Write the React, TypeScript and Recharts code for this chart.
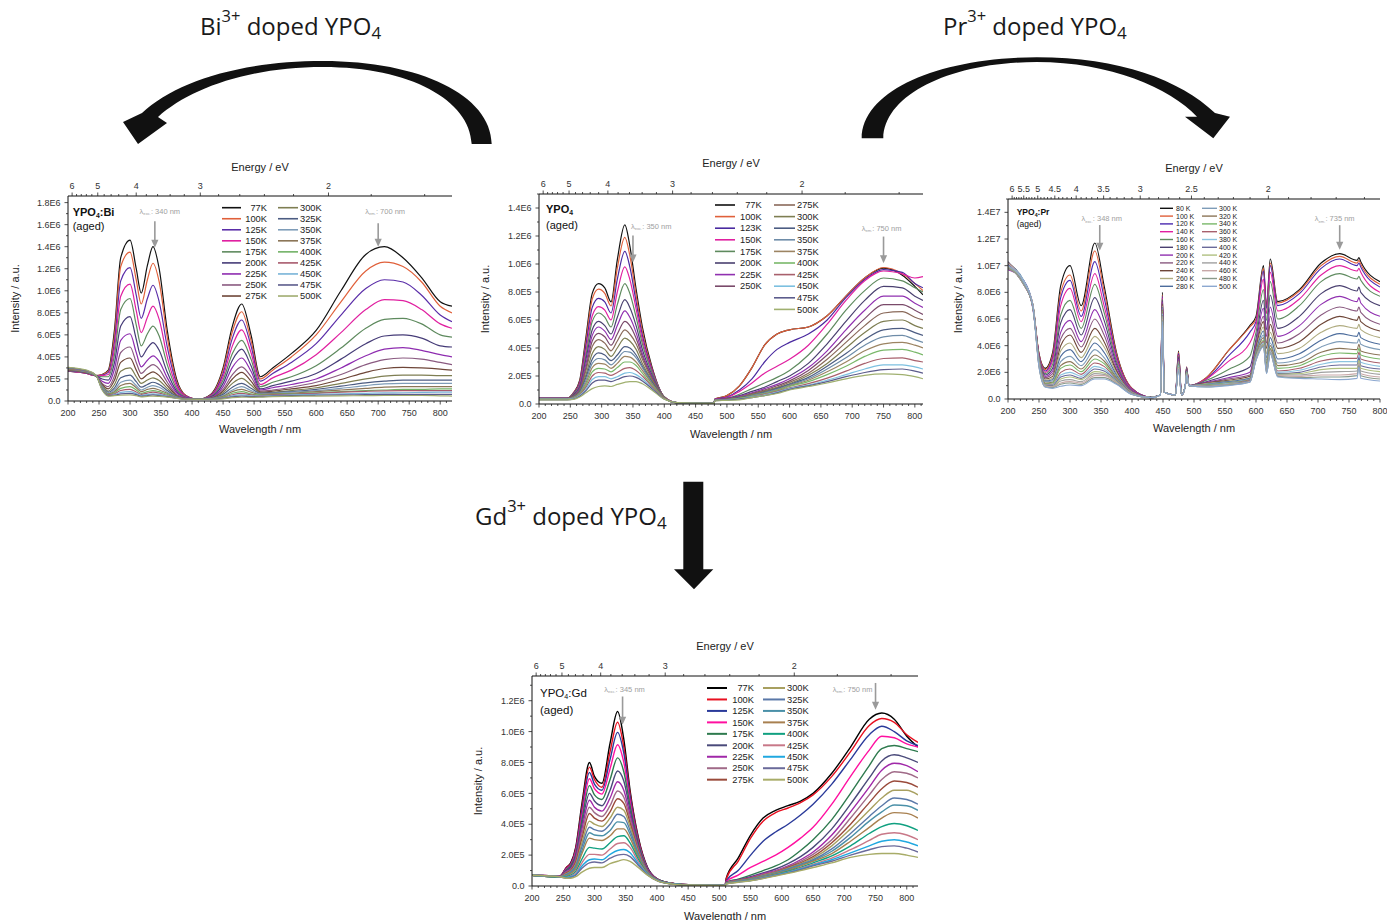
import React from 'react';
import { LineChart, Line, XAxis, YAxis, Legend, ReferenceDot } from 'recharts';

// ---------------- Bi panel (units of 1E5) ----------------
const BI_WL = [200, 230, 245, 255, 265, 275, 285, 300, 310, 318, 328, 337, 347, 360, 375, 390, 410, 430, 450, 465, 480, 495, 510, 530, 560, 600, 640, 680, 710, 740, 770, 800, 819];
const BI_NAMES = ['77K', '100K', '125K', '150K', '175K', '200K', '225K', '250K', '275K', '300K', '325K', '350K', '375K', '400K', '425K', '450K', '475K', '500K'];
const bi77 = [2.7, 2.5, 2.3, 2.4, 2.8, 6.5, 13.0, 14.6, 12.0, 9.8, 12.3, 14.0, 12.0, 6.4, 2.0, 0.5, 0.15, 0.6, 3.0, 6.8, 8.8, 6.0, 2.2, 3.0, 4.3, 6.4, 10.0, 13.3, 14.0, 13.0, 11.2, 9.0, 8.6];
const bi100 = [2.7, 2.5, 2.3, 2.4, 2.7, 6.0, 12.2, 13.5, 11.0, 8.8, 11.0, 12.5, 10.8, 5.8, 1.8, 0.5, 0.15, 0.55, 2.8, 6.3, 8.1, 5.5, 2.0, 2.8, 4.0, 6.0, 9.0, 11.8, 12.6, 12.2, 10.8, 8.6, 8.0];
const bi125 = [2.7, 2.5, 2.3, 2.35, 2.6, 5.4, 10.9, 12.1, 9.6, 7.5, 9.3, 10.5, 9.0, 4.9, 1.6, 0.45, 0.15, 0.5, 2.5, 5.7, 7.35, 5.0, 1.8, 2.5, 3.5, 5.2, 7.8, 10.2, 11.0, 10.8, 9.6, 7.8, 7.2];
const bi150 = [2.75, 2.5, 2.3, 2.3, 2.4, 4.8, 9.5, 10.6, 8.2, 6.2, 7.6, 8.6, 7.4, 4.0, 1.35, 0.4, 0.15, 0.45, 2.2, 5.0, 6.45, 4.4, 1.5, 2.1, 2.8, 4.2, 6.2, 8.3, 9.2, 9.1, 8.3, 7.0, 6.6];
const bi175 = [2.75, 2.55, 2.3, 2.2, 2.2, 4.2, 8.3, 9.3, 6.9, 5.0, 6.1, 6.8, 5.9, 3.3, 1.1, 0.35, 0.15, 0.4, 1.9, 4.3, 5.5, 3.8, 1.3, 1.7, 2.2, 3.2, 4.8, 6.6, 7.4, 7.5, 7.0, 6.0, 5.8];
const bi200 = [2.8, 2.55, 2.3, 2.0, 1.9, 3.5, 6.8, 7.65, 5.6, 4.0, 4.8, 5.3, 4.6, 2.6, 0.9, 0.3, 0.15, 0.35, 1.6, 3.7, 4.7, 3.2, 1.1, 1.4, 1.8, 2.5, 3.8, 5.2, 5.9, 6.0, 5.7, 5.0, 4.9];
const bi225 = [2.8, 2.6, 2.3, 1.8, 1.6, 2.9, 5.5, 6.1, 4.4, 3.1, 3.7, 4.1, 3.6, 2.1, 0.75, 0.28, 0.15, 0.3, 1.3, 3.05, 3.9, 2.7, 1.0, 1.2, 1.5, 2.0, 3.0, 4.1, 4.7, 4.85, 4.6, 4.2, 4.0];
const bi250 = [2.8, 2.6, 2.3, 1.6, 1.3, 2.3, 4.4, 4.9, 3.5, 2.5, 3.0, 3.3, 2.9, 1.7, 0.6, 0.25, 0.15, 0.28, 1.05, 2.4, 3.1, 2.2, 0.9, 1.0, 1.25, 1.7, 2.4, 3.3, 3.75, 3.9, 3.8, 3.5, 3.3];
const bi275 = [2.85, 2.6, 2.3, 1.5, 1.1, 1.9, 3.5, 3.9, 2.8, 2.0, 2.4, 2.65, 2.3, 1.4, 0.5, 0.22, 0.15, 0.25, 0.9, 2.0, 2.6, 1.8, 0.8, 0.9, 1.1, 1.4, 1.95, 2.6, 2.95, 3.05, 3.0, 2.9, 2.8];
const bi300 = [2.85, 2.6, 2.3, 1.4, 0.9, 1.5, 2.7, 3.0, 2.2, 1.6, 1.9, 2.1, 1.85, 1.15, 0.45, 0.2, 0.15, 0.22, 0.75, 1.6, 2.05, 1.45, 0.75, 0.8, 0.95, 1.2, 1.6, 2.0, 2.25, 2.35, 2.35, 2.3, 2.3];
const bi325 = [2.9, 2.65, 2.3, 1.3, 0.8, 1.2, 2.1, 2.35, 1.75, 1.25, 1.5, 1.7, 1.5, 0.95, 0.4, 0.2, 0.15, 0.2, 0.6, 1.25, 1.6, 1.15, 0.7, 0.75, 0.85, 1.05, 1.35, 1.65, 1.8, 1.9, 1.9, 1.9, 1.9];
const bi350 = [2.9, 2.65, 2.3, 1.3, 0.7, 1.0, 1.7, 1.9, 1.4, 1.0, 1.25, 1.4, 1.25, 0.8, 0.35, 0.18, 0.15, 0.2, 0.5, 1.0, 1.3, 0.95, 0.65, 0.7, 0.8, 0.95, 1.15, 1.4, 1.55, 1.6, 1.6, 1.6, 1.6];
const bi375 = [2.9, 2.7, 2.3, 1.2, 0.65, 0.85, 1.4, 1.6, 1.2, 0.85, 1.05, 1.15, 1.0, 0.7, 0.32, 0.18, 0.15, 0.18, 0.42, 0.85, 1.05, 0.8, 0.6, 0.65, 0.7, 0.85, 1.0, 1.15, 1.25, 1.3, 1.3, 1.3, 1.3];
const bi400 = [2.95, 2.7, 2.3, 1.2, 0.6, 0.75, 1.15, 1.3, 1.0, 0.7, 0.85, 0.95, 0.85, 0.6, 0.3, 0.17, 0.15, 0.18, 0.36, 0.7, 0.85, 0.65, 0.55, 0.6, 0.65, 0.75, 0.85, 0.95, 1.0, 1.05, 1.06, 1.1, 1.1];
const bi425 = [2.95, 2.7, 2.35, 1.15, 0.55, 0.65, 0.95, 1.05, 0.82, 0.6, 0.72, 0.8, 0.72, 0.5, 0.28, 0.17, 0.15, 0.17, 0.3, 0.57, 0.7, 0.55, 0.5, 0.55, 0.6, 0.7, 0.8, 0.88, 0.92, 0.94, 0.94, 0.95, 0.95];
const bi450 = [3.0, 2.75, 2.35, 1.1, 0.5, 0.58, 0.78, 0.85, 0.68, 0.5, 0.6, 0.65, 0.6, 0.45, 0.26, 0.16, 0.15, 0.17, 0.26, 0.46, 0.55, 0.47, 0.45, 0.5, 0.55, 0.6, 0.65, 0.7, 0.73, 0.75, 0.78, 0.8, 0.8];
const bi475 = [3.0, 2.75, 2.35, 1.05, 0.48, 0.52, 0.64, 0.7, 0.58, 0.42, 0.5, 0.55, 0.5, 0.4, 0.25, 0.16, 0.15, 0.16, 0.23, 0.38, 0.45, 0.4, 0.4, 0.45, 0.5, 0.52, 0.55, 0.58, 0.6, 0.6, 0.6, 0.6, 0.6];
const bi500 = [3.05, 2.8, 2.35, 1.0, 0.45, 0.48, 0.52, 0.55, 0.48, 0.38, 0.42, 0.45, 0.42, 0.35, 0.24, 0.16, 0.15, 0.16, 0.2, 0.3, 0.35, 0.33, 0.35, 0.4, 0.42, 0.45, 0.47, 0.48, 0.5, 0.5, 0.5, 0.47, 0.45];
const BI_SERIES = [bi77, bi100, bi125, bi150, bi175, bi200, bi225, bi250, bi275, bi300, bi325, bi350, bi375, bi400, bi425, bi450, bi475, bi500];

// ---------------- undoped YPO4 panel (units of 1E5) ----------------
const Y_WL = [200, 245, 255, 265, 275, 285, 295, 305, 315, 325, 337, 345, 355, 365, 380, 400, 420, 479, 481, 500, 520, 540, 560, 580, 600, 630, 660, 690, 720, 750, 780, 800, 813];
const Y_NAMES = ['77K', '100K', '123K', '150K', '175K', '200K', '225K', '250K', '275K', '300K', '325K', '350K', '375K', '400K', '425K', '450K', '475K', '500K'];
const y77 = [0.4, 0.4, 0.8, 1.7, 4.8, 7.9, 8.6, 8.3, 7.3, 10.3, 12.8, 11.3, 8.2, 5.5, 2.7, 0.5, 0.1, 0.05, 0.35, 0.6, 1.3, 2.6, 4.2, 5.0, 5.3, 5.5, 6.3, 7.7, 9.0, 9.7, 9.2, 8.4, 7.8];
const y100 = [0.4, 0.4, 0.8, 1.6, 4.5, 7.5, 8.2, 7.9, 7.0, 9.7, 11.9, 10.6, 7.8, 5.2, 2.6, 0.5, 0.1, 0.05, 0.35, 0.6, 1.3, 2.6, 4.2, 5.0, 5.3, 5.5, 6.3, 7.7, 9.0, 9.75, 9.3, 8.6, 8.1];
const y123 = [0.4, 0.4, 0.75, 1.5, 4.2, 6.9, 7.55, 7.3, 6.5, 8.9, 10.9, 9.8, 7.3, 4.9, 2.5, 0.5, 0.1, 0.05, 0.35, 0.5, 1.0, 1.8, 3.0, 3.9, 4.4, 5.0, 6.0, 7.6, 8.9, 9.6, 9.4, 8.6, 8.3];
const y150 = [0.4, 0.4, 0.7, 1.4, 3.8, 6.3, 6.95, 6.7, 6.0, 8.0, 9.8, 8.9, 6.8, 4.6, 2.4, 0.5, 0.1, 0.05, 0.33, 0.45, 0.9, 1.5, 2.2, 2.7, 3.2, 4.2, 5.7, 7.4, 8.8, 9.5, 9.3, 9.0, 9.1];
const y175 = [0.4, 0.4, 0.7, 1.3, 3.5, 5.9, 6.5, 6.2, 5.5, 7.1, 8.6, 7.9, 6.2, 4.3, 2.3, 0.5, 0.1, 0.05, 0.3, 0.4, 0.7, 1.1, 1.5, 1.9, 2.4, 3.5, 5.0, 6.7, 8.1, 9.0, 8.8, 8.3, 8.0];
const y200 = [0.4, 0.4, 0.65, 1.2, 3.2, 5.3, 5.9, 5.6, 5.0, 6.2, 7.45, 6.9, 5.6, 3.9, 2.1, 0.45, 0.1, 0.05, 0.3, 0.4, 0.6, 0.9, 1.2, 1.6, 2.0, 2.9, 4.3, 5.9, 7.4, 8.4, 8.3, 7.7, 7.4];
const y225 = [0.4, 0.4, 0.6, 1.1, 2.9, 4.9, 5.5, 5.2, 4.6, 5.6, 6.65, 6.2, 5.1, 3.6, 2.0, 0.45, 0.1, 0.05, 0.3, 0.38, 0.55, 0.8, 1.1, 1.4, 1.8, 2.6, 3.8, 5.3, 6.7, 7.7, 7.7, 7.2, 6.9];
const y250 = [0.4, 0.4, 0.6, 1.0, 2.6, 4.5, 5.05, 4.8, 4.2, 5.0, 5.9, 5.6, 4.7, 3.4, 1.9, 0.45, 0.1, 0.05, 0.3, 0.36, 0.5, 0.75, 1.0, 1.3, 1.65, 2.4, 3.5, 4.8, 6.1, 7.1, 7.1, 6.7, 6.4];
const y275 = [0.38, 0.38, 0.55, 0.95, 2.4, 4.1, 4.6, 4.35, 3.8, 4.5, 5.3, 5.0, 4.3, 3.2, 1.8, 0.45, 0.1, 0.05, 0.28, 0.35, 0.5, 0.7, 0.95, 1.2, 1.55, 2.2, 3.2, 4.4, 5.6, 6.5, 6.6, 6.2, 6.0];
const y300 = [0.38, 0.38, 0.5, 0.9, 2.1, 3.6, 4.1, 3.9, 3.4, 4.0, 4.7, 4.5, 3.9, 2.9, 1.7, 0.45, 0.1, 0.05, 0.28, 0.34, 0.45, 0.65, 0.9, 1.15, 1.45, 2.05, 2.9, 4.0, 5.1, 5.9, 6.0, 5.6, 5.4];
const y325 = [0.36, 0.36, 0.5, 0.85, 1.9, 3.2, 3.65, 3.5, 3.1, 3.5, 4.1, 4.0, 3.5, 2.7, 1.6, 0.4, 0.1, 0.05, 0.27, 0.33, 0.45, 0.6, 0.85, 1.1, 1.4, 1.9, 2.7, 3.6, 4.6, 5.3, 5.4, 5.1, 4.9];
const y350 = [0.36, 0.36, 0.48, 0.8, 1.7, 2.9, 3.25, 3.15, 2.8, 3.2, 3.75, 3.7, 3.3, 2.6, 1.5, 0.4, 0.1, 0.05, 0.27, 0.32, 0.4, 0.6, 0.8, 1.05, 1.35, 1.8, 2.5, 3.3, 4.2, 4.8, 4.9, 4.6, 4.4];
const y375 = [0.35, 0.35, 0.45, 0.75, 1.5, 2.6, 2.9, 2.85, 2.55, 2.9, 3.4, 3.35, 3.0, 2.4, 1.45, 0.4, 0.1, 0.05, 0.26, 0.31, 0.4, 0.55, 0.75, 1.0, 1.3, 1.7, 2.3, 3.0, 3.8, 4.3, 4.4, 4.2, 4.0];
const y400 = [0.35, 0.35, 0.43, 0.7, 1.35, 2.3, 2.55, 2.5, 2.3, 2.6, 3.0, 3.0, 2.75, 2.2, 1.35, 0.4, 0.1, 0.05, 0.26, 0.3, 0.4, 0.55, 0.75, 0.95, 1.25, 1.6, 2.1, 2.7, 3.4, 3.85, 3.9, 3.7, 3.5];
const y425 = [0.33, 0.33, 0.4, 0.65, 1.2, 2.0, 2.25, 2.2, 2.05, 2.25, 2.55, 2.6, 2.4, 2.0, 1.25, 0.4, 0.1, 0.05, 0.25, 0.3, 0.35, 0.5, 0.7, 0.9, 1.15, 1.45, 1.85, 2.35, 2.9, 3.25, 3.3, 3.1, 3.0];
const y450 = [0.33, 0.33, 0.38, 0.6, 1.05, 1.75, 1.95, 1.95, 1.8, 1.95, 2.2, 2.25, 2.1, 1.8, 1.15, 0.35, 0.1, 0.05, 0.25, 0.28, 0.35, 0.5, 0.65, 0.85, 1.1, 1.35, 1.7, 2.1, 2.5, 2.8, 2.8, 2.65, 2.5];
const y475 = [0.3, 0.3, 0.35, 0.55, 0.95, 1.5, 1.7, 1.7, 1.6, 1.75, 1.95, 2.0, 1.9, 1.65, 1.1, 0.35, 0.1, 0.05, 0.24, 0.27, 0.35, 0.45, 0.6, 0.8, 1.05, 1.3, 1.6, 1.95, 2.25, 2.45, 2.5, 2.35, 2.2];
const y500 = [0.3, 0.3, 0.33, 0.5, 0.8, 1.1, 1.25, 1.3, 1.25, 1.4, 1.55, 1.6, 1.6, 1.45, 1.0, 0.35, 0.1, 0.05, 0.23, 0.26, 0.3, 0.45, 0.6, 0.75, 1.0, 1.25, 1.5, 1.8, 2.05, 2.15, 2.1, 1.95, 1.8];
const Y_SERIES = [y77, y100, y123, y150, y175, y200, y225, y250, y275, y300, y325, y350, y375, y400, y425, y450, y475, y500];

// ---------------- Pr panel (units of 1E6) ----------------
const PR_WL = [200, 225, 240, 250, 260, 272, 285, 300, 318, 340, 355, 375, 400, 430, 446, 449, 452, 470, 475, 480, 486, 488, 492, 520, 555, 590, 600, 612, 617, 623, 635, 670, 705, 735, 763, 766, 769, 800];
const PR_NAMES = ['80 K', '100 K', '120 K', '140 K', '160 K', '180 K', '200 K', '220 K', '240 K', '260 K', '280 K', '300 K', '320 K', '340 K', '360 K', '380 K', '400 K', '420 K', '440 K', '460 K', '480 K', '500 K'];
const pr80 = [10.2, 8.8, 7.0, 3.4, 2.3, 3.5, 8.5, 10.0, 7.0, 11.7, 8.5, 3.5, 0.8, 0.15, 0.3, 8.0, 0.5, 0.3, 3.6, 0.3, 1.0, 2.4, 1.0, 1.6, 3.6, 5.5, 6.2, 10.0, 7.0, 10.5, 7.3, 8.2, 10.2, 10.9, 10.4, 10.6, 10.3, 8.8];
const pr100 = [10.0, 8.7, 7.1, 3.4, 2.2, 3.3, 8.0, 9.3, 6.6, 11.1, 8.1, 3.4, 0.8, 0.15, 0.3, 7.8, 0.5, 0.3, 3.5, 0.3, 1.0, 2.4, 1.0, 1.6, 3.6, 5.4, 6.0, 9.8, 6.9, 10.2, 7.2, 8.1, 10.0, 10.7, 10.2, 10.4, 10.1, 8.6];
const pr120 = [9.8, 8.9, 6.9, 3.3, 2.1, 3.1, 7.6, 8.9, 6.2, 10.3, 7.6, 3.2, 0.75, 0.15, 0.3, 7.7, 0.5, 0.3, 3.4, 0.3, 1.0, 2.35, 1.0, 1.5, 3.2, 5.0, 5.8, 9.6, 6.8, 10.0, 7.0, 7.9, 9.8, 10.5, 10.0, 10.2, 9.9, 8.4];
const pr140 = [10.1, 8.6, 7.0, 3.3, 2.0, 2.9, 7.0, 8.3, 5.8, 9.4, 7.0, 3.0, 0.7, 0.15, 0.3, 7.6, 0.5, 0.3, 3.3, 0.3, 1.0, 2.3, 1.0, 1.5, 2.8, 4.2, 5.5, 9.0, 6.4, 9.5, 6.6, 7.5, 9.3, 10.0, 9.6, 9.8, 9.5, 8.0];
const pr160 = [9.9, 8.8, 6.9, 3.2, 1.9, 2.6, 6.3, 7.4, 5.3, 8.6, 6.5, 2.8, 0.65, 0.14, 0.3, 7.5, 0.5, 0.3, 3.2, 0.3, 1.0, 2.3, 1.0, 1.4, 2.2, 3.2, 5.0, 8.2, 5.9, 8.8, 6.0, 7.0, 8.8, 9.4, 9.0, 9.2, 8.9, 7.7];
const pr180 = [10.3, 8.7, 7.1, 3.2, 1.8, 2.3, 5.7, 6.7, 4.8, 7.6, 5.9, 2.6, 0.6, 0.14, 0.3, 7.4, 0.5, 0.3, 3.1, 0.3, 1.0, 2.25, 1.0, 1.3, 1.8, 2.4, 4.5, 7.4, 5.2, 7.8, 5.3, 6.2, 7.9, 8.5, 8.1, 8.4, 8.0, 7.0];
const pr200 = [9.7, 8.9, 6.8, 3.1, 1.7, 2.1, 5.0, 5.9, 4.3, 6.7, 5.3, 2.4, 0.6, 0.13, 0.3, 7.3, 0.5, 0.3, 3.0, 0.3, 1.0, 2.2, 1.0, 1.25, 1.6, 2.0, 4.2, 6.8, 4.7, 6.9, 4.7, 5.5, 7.1, 7.7, 7.3, 7.6, 7.2, 6.2];
const pr220 = [10.0, 8.6, 7.0, 3.1, 1.6, 1.9, 4.5, 5.3, 3.9, 6.0, 4.8, 2.2, 0.55, 0.13, 0.3, 7.2, 0.5, 0.3, 2.9, 0.3, 1.0, 2.2, 1.0, 1.2, 1.5, 1.8, 4.0, 6.2, 4.2, 6.2, 4.2, 4.9, 6.3, 6.9, 6.6, 6.9, 6.5, 5.6];
const pr240 = [10.2, 8.8, 6.9, 3.0, 1.5, 1.7, 4.0, 4.8, 3.5, 5.3, 4.3, 2.1, 0.5, 0.12, 0.3, 7.1, 0.5, 0.3, 2.8, 0.3, 1.0, 2.15, 1.0, 1.2, 1.4, 1.7, 3.8, 5.8, 3.8, 5.6, 3.8, 4.3, 5.6, 6.2, 5.9, 6.2, 5.8, 5.1];
const pr260 = [9.8, 8.7, 7.0, 3.0, 1.4, 1.55, 3.6, 4.2, 3.1, 4.7, 3.9, 1.95, 0.5, 0.12, 0.3, 7.0, 0.5, 0.3, 2.8, 0.3, 1.0, 2.1, 1.0, 1.15, 1.35, 1.6, 3.6, 5.4, 3.4, 5.0, 3.4, 3.8, 5.0, 5.5, 5.3, 5.6, 5.2, 4.6];
const pr280 = [10.1, 8.9, 7.1, 2.9, 1.35, 1.45, 3.2, 3.7, 2.8, 4.2, 3.5, 1.8, 0.45, 0.12, 0.3, 6.9, 0.5, 0.3, 2.7, 0.3, 1.0, 2.1, 1.0, 1.1, 1.3, 1.55, 3.5, 5.1, 3.1, 4.6, 3.0, 3.4, 4.4, 4.9, 4.7, 5.0, 4.6, 4.1];
const pr300 = [9.9, 8.7, 6.9, 2.9, 1.3, 1.35, 2.8, 3.2, 2.5, 3.7, 3.1, 1.7, 0.45, 0.11, 0.3, 6.8, 0.5, 0.3, 2.7, 0.3, 1.0, 2.05, 1.0, 1.1, 1.25, 1.5, 3.4, 4.8, 2.9, 4.2, 2.7, 3.0, 3.9, 4.3, 4.2, 4.5, 4.1, 3.7];
const pr320 = [10.0, 8.8, 7.0, 2.8, 1.2, 1.25, 2.5, 2.8, 2.25, 3.3, 2.85, 1.6, 0.42, 0.11, 0.3, 6.7, 0.5, 0.3, 2.6, 0.3, 1.0, 2.0, 1.0, 1.05, 1.2, 1.45, 3.3, 4.6, 2.7, 4.0, 2.5, 2.7, 3.5, 3.8, 3.7, 4.1, 3.6, 3.3];
const pr340 = [10.2, 8.6, 7.1, 2.8, 1.15, 1.2, 2.3, 2.55, 2.05, 3.0, 2.65, 1.5, 0.4, 0.11, 0.3, 6.6, 0.5, 0.3, 2.6, 0.3, 1.0, 2.0, 1.0, 1.05, 1.2, 1.4, 3.2, 4.4, 2.6, 3.8, 2.3, 2.5, 3.2, 3.45, 3.4, 3.8, 3.3, 3.0];
const pr360 = [9.8, 8.7, 6.9, 2.7, 1.1, 1.1, 2.0, 2.25, 1.85, 2.7, 2.45, 1.45, 0.4, 0.1, 0.3, 6.5, 0.5, 0.3, 2.5, 0.3, 1.0, 1.95, 1.0, 1.0, 1.15, 1.4, 3.1, 4.3, 2.4, 3.7, 2.1, 2.3, 2.85, 3.05, 3.05, 3.5, 3.0, 2.7];
const pr380 = [10.0, 8.9, 7.0, 2.7, 1.05, 1.05, 1.8, 2.0, 1.7, 2.45, 2.25, 1.4, 0.38, 0.1, 0.3, 6.4, 0.5, 0.3, 2.5, 0.3, 1.0, 1.95, 1.0, 1.0, 1.15, 1.35, 3.1, 4.2, 2.3, 3.6, 2.0, 2.15, 2.6, 2.8, 2.8, 3.3, 2.75, 2.45];
const pr400 = [10.1, 8.7, 7.0, 2.6, 1.0, 1.0, 1.65, 1.8, 1.55, 2.25, 2.1, 1.35, 0.37, 0.1, 0.3, 6.3, 0.5, 0.3, 2.4, 0.3, 1.0, 1.9, 1.0, 1.0, 1.1, 1.35, 3.0, 4.1, 2.2, 3.5, 1.9, 2.0, 2.4, 2.55, 2.55, 3.1, 2.5, 2.25];
const pr420 = [9.9, 8.8, 6.9, 2.6, 1.0, 0.95, 1.5, 1.65, 1.45, 2.05, 1.95, 1.3, 0.36, 0.1, 0.3, 6.2, 0.5, 0.3, 2.4, 0.3, 1.0, 1.9, 1.0, 0.95, 1.1, 1.3, 3.0, 4.1, 2.1, 3.5, 1.85, 1.9, 2.2, 2.3, 2.3, 2.9, 2.3, 2.05];
const pr440 = [10.0, 8.6, 7.0, 2.5, 0.95, 0.9, 1.35, 1.45, 1.3, 1.9, 1.85, 1.25, 0.35, 0.1, 0.3, 6.1, 0.5, 0.3, 2.3, 0.3, 1.0, 1.85, 1.0, 0.95, 1.1, 1.3, 3.0, 4.0, 2.05, 3.5, 1.8, 1.8, 2.0, 2.05, 2.1, 2.7, 2.1, 1.85];
const pr460 = [10.2, 8.8, 7.1, 2.5, 0.95, 0.9, 1.2, 1.3, 1.2, 1.75, 1.75, 1.2, 0.35, 0.1, 0.3, 6.0, 0.5, 0.3, 2.3, 0.3, 1.0, 1.85, 1.0, 0.95, 1.05, 1.3, 3.0, 4.0, 2.0, 3.4, 1.75, 1.7, 1.8, 1.8, 1.9, 2.6, 1.9, 1.65];
const pr480 = [9.8, 8.7, 6.9, 2.4, 0.9, 0.85, 1.1, 1.2, 1.1, 1.6, 1.6, 1.15, 0.34, 0.1, 0.3, 5.9, 0.5, 0.3, 2.2, 0.3, 1.0, 1.8, 1.0, 0.9, 1.05, 1.25, 2.9, 4.0, 1.95, 3.4, 1.7, 1.6, 1.65, 1.65, 1.75, 2.5, 1.75, 1.5];
const pr500 = [10.0, 8.8, 7.0, 2.4, 0.9, 0.8, 0.95, 1.05, 1.0, 1.5, 1.5, 1.1, 0.33, 0.1, 0.3, 5.8, 0.5, 0.3, 2.2, 0.3, 1.0, 1.8, 1.0, 0.9, 1.0, 1.25, 2.9, 3.9, 1.9, 3.4, 1.65, 1.55, 1.5, 1.45, 1.55, 2.4, 1.55, 1.35];
const PR_SERIES = [pr80, pr100, pr120, pr140, pr160, pr180, pr200, pr220, pr240, pr260, pr280, pr300, pr320, pr340, pr360, pr380, pr400, pr420, pr440, pr460, pr480, pr500];

// ---------------- Gd panel (units of 1E5) ----------------
const GD_WL = [200, 245, 255, 262, 270, 280, 292, 300, 312, 325, 337, 347, 357, 370, 385, 400, 420, 450, 509, 511, 530, 550, 570, 590, 610, 630, 650, 680, 710, 740, 760, 780, 800, 818];
const GD_NAMES = ['77K', '100K', '125K', '150K', '175K', '200K', '225K', '250K', '275K', '300K', '325K', '350K', '375K', '400K', '425K', '450K', '475K', '500K'];
const gd77 = [0.7, 0.65, 1.2, 1.5, 2.5, 5.35, 8.0, 7.1, 6.65, 9.25, 11.3, 9.5, 6.2, 3.2, 1.2, 0.48, 0.2, 0.08, 0.03, 0.5, 1.8, 3.3, 4.4, 4.9, 5.2, 5.5, 6.0, 7.3, 9.0, 10.8, 11.2, 10.8, 9.7, 9.0];
const gd100 = [0.7, 0.65, 1.2, 1.45, 2.4, 5.1, 7.7, 6.9, 6.4, 8.7, 10.6, 9.0, 6.0, 3.1, 1.15, 0.47, 0.2, 0.08, 0.03, 0.45, 1.6, 3.1, 4.2, 4.75, 5.05, 5.4, 5.9, 7.1, 8.7, 10.4, 10.85, 10.6, 9.8, 9.3];
const gd125 = [0.7, 0.65, 1.15, 1.4, 2.3, 4.9, 7.35, 6.6, 6.2, 8.2, 9.95, 8.6, 5.8, 3.0, 1.15, 0.46, 0.2, 0.08, 0.03, 0.35, 1.0, 2.0, 2.9, 3.5, 4.0, 4.6, 5.3, 6.6, 8.2, 9.8, 10.35, 10.0, 9.4, 9.1];
const gd150 = [0.7, 0.65, 1.1, 1.35, 2.2, 4.6, 6.95, 6.3, 5.95, 7.6, 9.15, 8.0, 5.5, 2.9, 1.1, 0.45, 0.2, 0.08, 0.03, 0.3, 0.7, 1.2, 1.6, 2.0, 2.5, 3.1, 3.8, 5.3, 7.1, 8.8, 9.7, 9.6, 9.2, 9.0];
const gd175 = [0.7, 0.62, 1.05, 1.3, 2.05, 4.3, 6.5, 5.9, 5.6, 6.9, 8.3, 7.4, 5.2, 2.8, 1.05, 0.44, 0.2, 0.08, 0.03, 0.25, 0.45, 0.7, 1.0, 1.3, 1.7, 2.3, 3.0, 4.3, 6.0, 7.8, 8.9, 9.1, 8.9, 8.7];
const gd200 = [0.7, 0.62, 1.0, 1.2, 1.9, 4.0, 6.0, 5.5, 5.2, 6.2, 7.45, 6.8, 4.9, 2.6, 1.0, 0.43, 0.19, 0.08, 0.03, 0.22, 0.4, 0.6, 0.85, 1.1, 1.45, 1.9, 2.5, 3.7, 5.3, 7.0, 8.1, 8.5, 8.3, 8.0];
const gd225 = [0.7, 0.62, 0.95, 1.1, 1.8, 3.7, 5.55, 5.1, 4.85, 5.7, 6.75, 6.2, 4.6, 2.5, 1.0, 0.42, 0.19, 0.08, 0.03, 0.2, 0.38, 0.55, 0.8, 1.0, 1.3, 1.7, 2.2, 3.3, 4.8, 6.4, 7.5, 7.95, 7.8, 7.4];
const gd250 = [0.7, 0.6, 0.9, 1.05, 1.65, 3.4, 5.1, 4.75, 4.5, 5.2, 6.15, 5.75, 4.35, 2.4, 0.95, 0.42, 0.18, 0.07, 0.03, 0.2, 0.36, 0.52, 0.75, 0.95, 1.25, 1.6, 2.05, 3.0, 4.4, 5.9, 6.9, 7.4, 7.3, 7.0];
const gd275 = [0.7, 0.6, 0.85, 1.0, 1.55, 3.1, 4.7, 4.4, 4.2, 4.8, 5.65, 5.35, 4.1, 2.3, 0.95, 0.41, 0.18, 0.07, 0.03, 0.18, 0.35, 0.5, 0.7, 0.9, 1.2, 1.5, 1.9, 2.8, 4.0, 5.4, 6.3, 6.8, 6.7, 6.4];
const gd300 = [0.7, 0.6, 0.8, 0.95, 1.4, 2.8, 4.2, 4.0, 3.85, 4.4, 5.1, 4.9, 3.85, 2.2, 0.9, 0.4, 0.18, 0.07, 0.03, 0.18, 0.33, 0.48, 0.68, 0.88, 1.15, 1.45, 1.8, 2.6, 3.7, 4.9, 5.7, 6.2, 6.2, 5.9];
const gd325 = [0.7, 0.6, 0.75, 0.9, 1.3, 2.55, 3.8, 3.65, 3.55, 4.0, 4.65, 4.5, 3.6, 2.1, 0.9, 0.4, 0.17, 0.07, 0.03, 0.17, 0.32, 0.46, 0.65, 0.85, 1.1, 1.4, 1.7, 2.4, 3.4, 4.5, 5.2, 5.7, 5.6, 5.3];
const gd350 = [0.7, 0.6, 0.7, 0.85, 1.2, 2.3, 3.45, 3.3, 3.25, 3.6, 4.15, 4.1, 3.35, 2.0, 0.85, 0.39, 0.17, 0.07, 0.03, 0.16, 0.3, 0.44, 0.62, 0.82, 1.05, 1.35, 1.65, 2.25, 3.15, 4.2, 4.8, 5.25, 5.2, 4.9];
const gd375 = [0.7, 0.6, 0.65, 0.8, 1.1, 2.1, 3.1, 3.0, 2.95, 3.25, 3.7, 3.7, 3.1, 1.9, 0.85, 0.38, 0.17, 0.07, 0.03, 0.16, 0.3, 0.42, 0.6, 0.8, 1.0, 1.3, 1.6, 2.1, 2.9, 3.8, 4.4, 4.75, 4.7, 4.4];
const gd400 = [0.7, 0.6, 0.6, 0.7, 0.95, 1.75, 2.5, 2.45, 2.4, 2.8, 3.2, 3.25, 2.8, 1.75, 0.8, 0.37, 0.16, 0.07, 0.03, 0.15, 0.28, 0.4, 0.57, 0.75, 0.95, 1.2, 1.5, 1.95, 2.6, 3.4, 3.85, 4.05, 3.9, 3.6];
const gd425 = [0.7, 0.6, 0.55, 0.65, 0.85, 1.5, 2.05, 2.05, 2.0, 2.4, 2.75, 2.8, 2.5, 1.6, 0.78, 0.36, 0.16, 0.06, 0.03, 0.15, 0.27, 0.38, 0.55, 0.72, 0.9, 1.15, 1.4, 1.8, 2.35, 2.95, 3.35, 3.45, 3.3, 3.0];
const gd450 = [0.7, 0.6, 0.55, 0.6, 0.75, 1.3, 1.7, 1.75, 1.7, 2.05, 2.3, 2.36, 2.15, 1.45, 0.75, 0.36, 0.16, 0.06, 0.03, 0.14, 0.26, 0.36, 0.52, 0.7, 0.88, 1.1, 1.35, 1.7, 2.15, 2.6, 2.9, 3.0, 2.85, 2.6];
const gd475 = [0.7, 0.6, 0.5, 0.55, 0.7, 1.15, 1.5, 1.55, 1.5, 1.8, 2.0, 2.05, 1.9, 1.35, 0.72, 0.35, 0.15, 0.06, 0.03, 0.14, 0.25, 0.35, 0.5, 0.68, 0.85, 1.05, 1.3, 1.6, 2.0, 2.35, 2.55, 2.6, 2.45, 2.2];
const gd500 = [0.7, 0.6, 0.5, 0.5, 0.6, 0.9, 1.15, 1.2, 1.2, 1.45, 1.6, 1.71, 1.6, 1.2, 0.7, 0.35, 0.15, 0.06, 0.03, 0.13, 0.24, 0.34, 0.48, 0.65, 0.82, 1.0, 1.2, 1.5, 1.85, 2.05, 2.1, 2.1, 2.0, 1.85];
const GD_SERIES = [gd77, gd100, gd125, gd150, gd175, gd200, gd225, gd250, gd275, gd300, gd325, gd350, gd375, gd400, gd425, gd450, gd475, gd500];

// ---------------- tick label lists ----------------
const E_MAJOR = [6, 5, 4, 3, 2];
const E_MINOR = [5.8, 5.6, 5.4, 5.2, 4.8, 4.6, 4.4, 4.2, 3.8, 3.6, 3.4, 3.2, 2.8, 2.6, 2.4, 2.2, 1.8, 1.6];
const E_MAJOR_PR = [6, 5.5, 5, 4.5, 4, 3.5, 3, 2.5, 2];
const E_MINOR_PR = [5.9, 5.8, 5.7, 5.6, 5.4, 5.3, 5.2, 5.1, 4.9, 4.8, 4.7, 4.6, 4.4, 4.3, 4.2, 4.1, 3.9, 3.8, 3.7, 3.6, 3.4, 3.3, 3.2, 3.1, 2.9, 2.8, 2.7, 2.6, 2.4, 2.3, 2.2, 2.1, 1.9, 1.8, 1.7, 1.6];

// ---------------- colours ----------------
const BI_COLORS = ['#111111', '#E0603A', '#5A2DA8', '#E020A0', '#5E8A5E', '#463C78', '#8E2CB0', '#8A5A80', '#6E4638', '#7E7E52', '#4C5C82', '#7E9CB8', '#8C7658', '#72B266', '#A85A6C', '#78B4D8', '#5C5C8C', '#A0AC70'];
const Y_COLORS = ['#111111', '#E0603A', '#4A2AA0', '#E020A0', '#5E8A5E', '#4A4070', '#9030B0', '#7A4A6A', '#8A6A5A', '#7E7E52', '#4C5C82', '#6E8CA8', '#9C8462', '#7AB86A', '#A8606C', '#7CC0E0', '#5C5C8C', '#A0B070'];
const PR_COLORS = ['#111111', '#E0603A', '#4A2AB0', '#E020A0', '#5E8A5E', '#4A4070', '#9030B0', '#8A5A80', '#6E4638', '#B0AC80', '#4C6C9C', '#7E9CB8', '#8C7658', '#7AB86A', '#A8606C', '#8CC4E0', '#6A6A9A', '#B0C080', '#A0A0A0', '#C8A8A8', '#8A9A8A', '#8CA8D0'];
const GD_COLORS = ['#000000', '#E81020', '#2A3A9A', '#FF10A0', '#2E7A4E', '#4A4A7A', '#A028A8', '#A06A88', '#9A4A3A', '#A8A060', '#5A78A8', '#4A90A8', '#A88050', '#10A080', '#C87888', '#20A8E0', '#6A6A9A', '#A8AC68'];

const FONT = "'Liberation Sans', Arial, Helvetica, sans-serif";
const HC = 1239.84;

type Ann = { x: number; tip: number; len: number; kind: string; val: string; dx: number; ty: number; anchor: 'start' | 'middle' | 'end'; fs: number };
type LegCfg = { x0: number; y0: number; w: number; h: number; r0: number; rowH: number; rows1: number; fs: number; lw: number; cols: { l1: number; l2: number; tx: number; anchor: 'start' | 'end' }[] };
type PanelCfg = {
  id: string;
  plot: { x: number; y: number; w: number; h: number };
  wl: number[];
  series: number[][];
  names: string[];
  colors: string[];
  xMax: number;
  yMax: number;
  yTop: number;
  exp: number;
  eMajor: number[];
  eMinor: number[];
  lw: number;
  legend: LegCfg;
  anns: Ann[];
};

function fmtY(v: number, exp: number) {
  if (v === 0) return '0.0';
  if (v < 10) return `${v.toFixed(1)}E${exp}`;
  return `${(v / 10).toFixed(1)}E${exp + 1}`;
}

function bottomTick(props: any) {
  const { x, y, payload } = props;
  const v = Number(payload.value);
  const major = v % 50 === 0;
  return (
    <g>
      <line x1={x} x2={x} y1={y} y2={y + (major ? 3.5 : 2)} stroke="#222" strokeWidth={0.8} />
      {major ? (
        <text x={x} y={y + 14.5} textAnchor="middle" fontSize={9} fill="#333" fontFamily={FONT}>{v}</text>
      ) : null}
    </g>
  );
}

function makeLeftTick(exp: number) {
  return (props: any) => {
    const { x, y, payload } = props;
    const v = Number(payload.value);
    const major = v % 2 === 0;
    return (
      <g>
        <line x1={x} x2={x - (major ? 3.5 : 2)} y1={y} y2={y} stroke="#222" strokeWidth={0.8} />
        {major ? (
          <text x={x - 7.5} y={y} dy="0.35em" textAnchor="end" fontSize={9} fill="#333" fontFamily={FONT}>{fmtY(v, exp)}</text>
        ) : null}
      </g>
    );
  };
}

function makeTopTick(majors: number[]) {
  return (props: any) => {
    const { x, y, payload } = props;
    const e = HC / Number(payload.value);
    const m = majors.find((mm) => Math.abs(mm - e) < 0.01);
    const major = m !== undefined;
    return (
      <g>
        <line x1={x} x2={x} y1={y} y2={y - (major ? 3.5 : 2)} stroke="#222" strokeWidth={0.8} />
        {major ? (
          <text x={x} y={y - 7.5} textAnchor="middle" fontSize={9} fill="#333" fontFamily={FONT}>
            {Number.isInteger(m) ? String(m) : (m as number).toFixed(1)}
          </text>
        ) : null}
      </g>
    );
  };
}

function arrowShape(a: Ann) {
  return (props: any) => {
    const { cx, cy } = props;
    if (cx == null || cy == null) return <g />;
    const top = cy - a.len;
    return (
      <g>
        <line x1={cx} x2={cx} y1={top} y2={cy - 7} stroke="#9a9a9a" strokeWidth={1.6} />
        <polygon points={`${cx - 3.6},${cy - 8} ${cx + 3.6},${cy - 8} ${cx},${cy}`} fill="#9a9a9a" />
        <text x={cx + a.dx} y={top + a.ty} textAnchor={a.anchor} fontSize={a.fs} fill="#a0a0a0" fontFamily={FONT}>
          λ<tspan fontSize={a.fs * 0.55} dy={1.5}>{a.kind}</tspan>
          <tspan dy={-1.5}>: {a.val}</tspan>
        </text>
      </g>
    );
  };
}

function LegendGrid({ payload, cfg }: { payload: any[]; cfg: LegCfg }) {
  const items = [...(payload || [])].sort(
    (a, b) => Number(String(a.dataKey).slice(1)) - Number(String(b.dataKey).slice(1))
  );
  return (
    <svg width={cfg.w} height={cfg.h} style={{ display: 'block', overflow: 'visible' }}>
      {items.map((it, i) => {
        const col = i < cfg.rows1 ? 0 : 1;
        const row = col === 0 ? i : i - cfg.rows1;
        const c = cfg.cols[col];
        const yy = cfg.r0 - cfg.y0 + row * cfg.rowH;
        return (
          <g key={i}>
            <line x1={c.l1 - cfg.x0} x2={c.l2 - cfg.x0} y1={yy} y2={yy} stroke={it.color} strokeWidth={cfg.lw} />
            <text x={c.tx - cfg.x0} y={yy} dy="0.35em" textAnchor={c.anchor} fontSize={cfg.fs} fill="#222" fontFamily={FONT}>
              {it.value}
            </text>
          </g>
        );
      })}
    </svg>
  );
}

const ML = 75, MT = 50, MR = 10, MB = 40;

function Panel({ p }: { p: PanelCfg }) {
  const cw = p.plot.w + ML + MR;
  const ch = p.plot.h + MT + MB;
  const left = p.plot.x - ML;
  const top = p.plot.y - MT;
  const rows = p.wl.map((w, i) => {
    const r: any = { wl: w };
    p.series.forEach((s, k) => {
      r['s' + k] = s[i];
    });
    return r;
  });
  const xTicks: number[] = [];
  for (let v = 200; v <= p.xMax; v += 10) xTicks.push(v);
  const yTicks: number[] = [];
  for (let v = 0; v <= p.yTop; v += 1) yTicks.push(v);
  const eTicks = [...p.eMajor, ...p.eMinor].map((e) => HC / e).filter((v) => v >= 200 && v <= p.xMax);
  const lg = p.legend;
  return (
    <div style={{ position: 'absolute', left, top, width: cw, height: ch }}>
      <LineChart width={cw} height={ch} data={rows} margin={{ top: 20, right: MR, bottom: 15, left: 20 }}>
        <XAxis
          xAxisId={0}
          dataKey="wl"
          type="number"
          domain={[200, p.xMax]}
          allowDataOverflow
          ticks={xTicks}
          interval={0}
          tickSize={0}
          tickMargin={0}
          tickLine={false}
          tick={bottomTick}
          height={25}
          axisLine={{ stroke: '#111', strokeWidth: 1 }}
        />
        <XAxis
          xAxisId="top"
          dataKey="wl"
          orientation="top"
          type="number"
          domain={[200, p.xMax]}
          allowDataOverflow
          ticks={eTicks}
          interval={0}
          tickSize={0}
          tickMargin={0}
          tickLine={false}
          tick={makeTopTick(p.eMajor)}
          height={30}
          axisLine={{ stroke: '#111', strokeWidth: 1 }}
        />
        <YAxis
          yAxisId={0}
          type="number"
          domain={[0, p.yMax]}
          allowDataOverflow
          ticks={yTicks}
          interval={0}
          tickSize={0}
          tickMargin={0}
          tickLine={false}
          tick={makeLeftTick(p.exp)}
          width={55}
          axisLine={{ stroke: '#111', strokeWidth: 1 }}
        />
        <YAxis
          yAxisId="r"
          orientation="right"
          type="number"
          domain={[0, p.yMax]}
          allowDataOverflow
          tick={false}
          tickLine={false}
          width={0}
          axisLine={{ stroke: '#111', strokeWidth: 1 }}
        />
        {p.series.map((_, k) => (
          <Line
            key={k}
            xAxisId={0}
            yAxisId={0}
            dataKey={'s' + k}
            name={p.names[k]}
            stroke={p.colors[k]}
            strokeWidth={p.lw}
            type="monotone"
            dot={false}
            activeDot={false}
            isAnimationActive={false}
          />
        ))}
        {p.anns.map((a, i) => (
          <ReferenceDot key={'a' + i} xAxisId={0} yAxisId={0} x={a.x} y={a.tip} r={0} ifOverflow="visible" shape={arrowShape(a)} />
        ))}
        <Legend
          layout="horizontal"
          verticalAlign="middle"
          align="center"
          wrapperStyle={{ left: lg.x0 - left, top: lg.y0 - top, width: lg.w, height: lg.h, margin: 0, padding: 0 }}
          content={(props: any) => <LegendGrid payload={props.payload} cfg={lg} />}
        />
      </LineChart>
    </div>
  );
}

const PANELS: PanelCfg[] = [
  {
    id: 'bi',
    plot: { x: 68, y: 196, w: 384, h: 205 },
    wl: BI_WL, series: BI_SERIES, names: BI_NAMES, colors: BI_COLORS,
    xMax: 819, yMax: 18.6, yTop: 18, exp: 5, eMajor: E_MAJOR, eMinor: E_MINOR, lw: 1.2,
    legend: {
      x0: 219, y0: 202, w: 112, h: 104, r0: 207.7, rowH: 11.04, rows1: 9, fs: 9.3, lw: 1.6,
      cols: [{ l1: 222, l2: 241, tx: 267, anchor: 'end' }, { l1: 278, l2: 298, tx: 300, anchor: 'start' }],
    },
    anns: [
      { x: 340, tip: 13.9, len: 26.6, kind: 'exc.', val: '340 nm', dx: 5, ty: -7.7, anchor: 'middle', fs: 7.5 },
      { x: 700, tip: 14.0, len: 23.4, kind: 'em.', val: '700 nm', dx: 7, ty: -9.3, anchor: 'middle', fs: 7.5 },
    ],
  },
  {
    id: 'ypo',
    plot: { x: 539, y: 194, w: 384, h: 210 },
    wl: Y_WL, series: Y_SERIES, names: Y_NAMES, colors: Y_COLORS,
    xMax: 813, yMax: 15, yTop: 15, exp: 5, eMajor: E_MAJOR, eMinor: E_MINOR, lw: 1.2,
    legend: {
      x0: 712, y0: 198, w: 120, h: 122, r0: 205, rowH: 11.6, rows1: 8, fs: 9.3, lw: 1.6,
      cols: [{ l1: 715, l2: 735, tx: 761.7, anchor: 'end' }, { l1: 774, l2: 795, tx: 797, anchor: 'start' }],
    },
    anns: [
      { x: 350, tip: 10.1, len: 27, kind: 'exc.', val: '350 nm', dx: -2, ty: -7, anchor: 'start', fs: 7.5 },
      { x: 750, tip: 10.06, len: 26.6, kind: 'em.', val: '750 nm', dx: -2, ty: -5.7, anchor: 'middle', fs: 7.5 },
    ],
  },
  {
    id: 'pr',
    plot: { x: 1008, y: 199, w: 372, h: 200 },
    wl: PR_WL, series: PR_SERIES, names: PR_NAMES, colors: PR_COLORS,
    xMax: 800, yMax: 15, yTop: 15, exp: 6, eMajor: E_MAJOR_PR, eMinor: E_MINOR_PR, lw: 1.1,
    legend: {
      x0: 1156, y0: 203, w: 95, h: 92, r0: 208.3, rowH: 7.8, rows1: 11, fs: 7, lw: 1.4,
      cols: [{ l1: 1160, l2: 1173, tx: 1176, anchor: 'start' }, { l1: 1202, l2: 1217, tx: 1219, anchor: 'start' }],
    },
    anns: [
      { x: 348, tip: 11.12, len: 25.7, kind: 'exc.', val: '348 nm', dx: 2, ty: -4, anchor: 'middle', fs: 7.5 },
      { x: 735, tip: 11.2, len: 24.5, kind: 'em.', val: '735 nm', dx: -5, ty: -4, anchor: 'middle', fs: 7.5 },
    ],
  },
  {
    id: 'gd',
    plot: { x: 532, y: 676, w: 386, h: 210 },
    wl: GD_WL, series: GD_SERIES, names: GD_NAMES, colors: GD_COLORS,
    xMax: 818, yMax: 13.6, yTop: 13, exp: 5, eMajor: E_MAJOR, eMinor: E_MINOR, lw: 1.4,
    legend: {
      x0: 703, y0: 681, w: 120, h: 106, r0: 688, rowH: 11.46, rows1: 9, fs: 9.3, lw: 2,
      cols: [{ l1: 707, l2: 727, tx: 754, anchor: 'end' }, { l1: 763, l2: 785, tx: 787, anchor: 'start' }],
    },
    anns: [
      { x: 345, tip: 10.44, len: 28.3, kind: 'exc.', val: '345 nm', dx: 2, ty: -4.7, anchor: 'middle', fs: 7.5 },
      { x: 750, tip: 11.42, len: 26.7, kind: 'em.', val: '750 nm', dx: -3, ty: 8.7, anchor: 'end', fs: 7.5 },
    ],
  },
];

function Title({ x, y, el }: { x: number; y: number; el: string }) {
  return (
    <text x={x} y={y} fontFamily="'Open Sans', 'Noto Sans', sans-serif" fontSize={24} fill="#1a1a1a">
      {el}
      <tspan fontSize={16.5} dy={-13}>3+</tspan>
      <tspan dy={13}> doped YPO</tspan>
      <tspan fontSize={17} dy={4}>4</tspan>
    </text>
  );
}

function Sample({ x, y, y2, el, fs, bold }: { x: number; y: number; y2: number; el: string; fs: number; bold: boolean }) {
  return (
    <g fontFamily={FONT} fill="#111">
      <text x={x} y={y} fontSize={fs} fontWeight={bold ? 700 : 400}>
        YPO<tspan fontSize={fs * 0.62} dy={2}>4</tspan>
        <tspan dy={-2}>{el}</tspan>
      </text>
      <text x={x} y={y2} fontSize={fs}>(aged)</text>
    </g>
  );
}

const AXIS_TITLES = [
  { e: [260, 170.5], w: [260, 433], i: [15, 298.5] },
  { e: [731, 167], w: [731, 437.5], i: [485, 299] },
  { e: [1194, 172], w: [1194, 431.5], i: [958, 299] },
  { e: [725, 650], w: [725, 919.5], i: [478, 781] },
];

export default function App() {
  return (
    <div style={{ position: 'absolute', left: 0, top: 0, width: 1387, height: 920, background: '#fff', overflow: 'hidden' }}>
      {PANELS.map((p) => (
        <Panel key={p.id} p={p} />
      ))}
      <svg width={1387} height={920} style={{ position: 'absolute', left: 0, top: 0, pointerEvents: 'none' }}>
        <Title x={200} y={35} el="Bi" />
        <Title x={943} y={35} el="Pr" />
        <Title x={475} y={525} el="Gd" />
        <path
          d="M 491.7 144 C 491 95, 420 61, 323 61 C 240 61, 175 82, 142 113 L 123 122 L 138 144 L 167 123 L 158 117 C 190 88, 250 67, 323 67 C 410 67, 470 100, 471.7 144 Z"
          fill="#111"
        />
        <path
          d="M 861.7 138.3 C 862 90, 940 57.3, 1036.7 57.3 C 1120 57.3, 1180 80, 1215 113 L 1230 116.7 L 1213.3 138.3 L 1185 116.7 L 1197 116.7 C 1170 88, 1110 62, 1036.7 62 C 950 62, 884 95, 883.3 138.3 Z"
          fill="#111"
        />
        <path d="M 683.3 481.7 H 703.3 V 569.3 H 713.3 L 694 589.3 L 674 569.3 H 683.3 Z" fill="#111" />
        {AXIS_TITLES.map((t, i) => (
          <g key={i} fontFamily={FONT} fontSize={11} fill="#222">
            <text x={t.e[0]} y={t.e[1]} textAnchor="middle">Energy / eV</text>
            <text x={t.w[0]} y={t.w[1]} textAnchor="middle">Wavelength / nm</text>
            <text transform={`translate(${t.i[0]},${t.i[1]}) rotate(-90)`} textAnchor="middle" dy="0.35em">Intensity / a.u.</text>
          </g>
        ))}
        <Sample x={72.7} y={216} y2={229.5} el=":Bi" fs={11} bold />
        <Sample x={546} y={213} y2={229} el="" fs={11} bold />
        <Sample x={1016.7} y={215} y2={227} el=":Pr" fs={8.5} bold />
        <Sample x={540} y={697} y2={714} el=":Gd" fs={11.5} bold={false} />
      </svg>
    </div>
  );
}
